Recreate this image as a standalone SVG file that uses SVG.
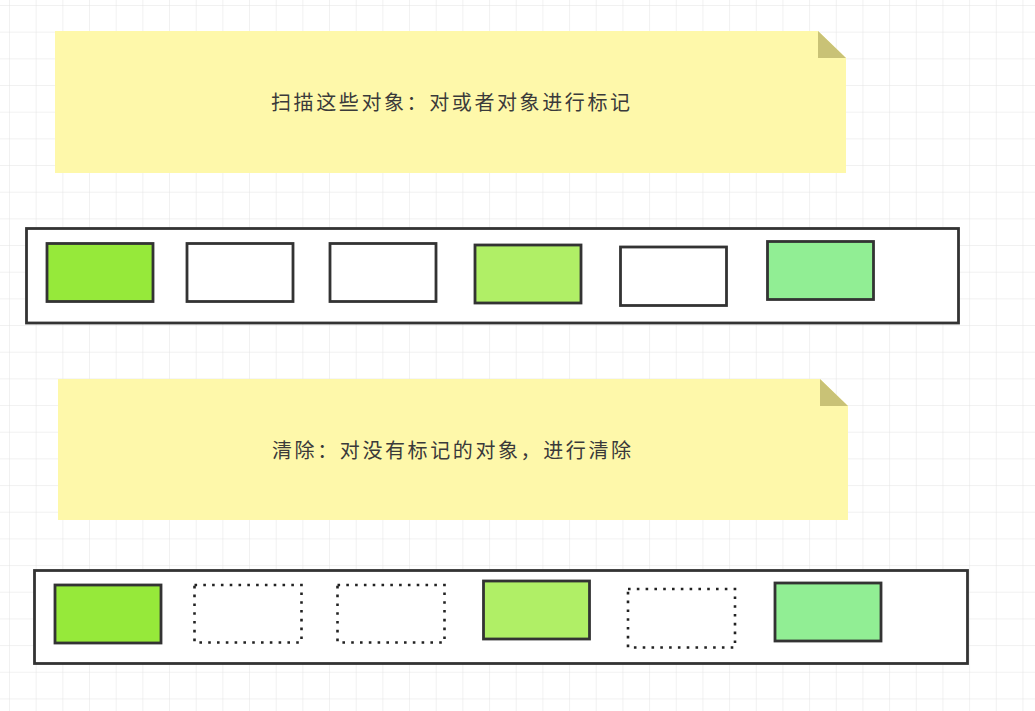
<svg xmlns="http://www.w3.org/2000/svg" width="1035" height="711" viewBox="0 0 1035 711">
<style>
.note{fill:#fef8aa}
.fold{fill:#c9c276}
.box{stroke:#333;stroke-width:2.8;fill:#fff}
.obj{stroke:#333;stroke-width:2.8}
.dot{stroke:#222;stroke-width:2.6;fill:#fff;stroke-dasharray:2.6 6.2}
.g1{fill:#96e93a}
.g2{fill:#b0ef66}
.g3{fill:#91ee94}
.w{fill:#fff}
.lbl{font-family:"Noto Sans CJK SC","Noto Sans",sans-serif;font-size:20px;fill:#3a3a3a;letter-spacing:2.6px}
</style>
<defs>
<pattern id="grid" patternUnits="userSpaceOnUse" x="9" y="5" width="26.67" height="26.67">
<path d="M0 0H26.67M0 0V26.67" stroke="#e3e3e3" stroke-width="1" fill="none"/>
</pattern>
</defs>
<rect width="1035" height="711" fill="#fff"/>
<rect width="1035" height="711" fill="url(#grid)"/>
<g id="note1">
<path class="note" d="M55 31H818L846 58V173H55Z"/>
<path class="fold" d="M818 31L846 58H818Z"/>
<text class="lbl" x="271" y="110">扫描这些对象：对或者对象进行标记</text>
</g>
<g id="heap1">
<rect class="box" x="26.5" y="228.5" width="932" height="94.5"/>
</g>
<g id="obj1a"><rect class="obj g1" x="47" y="243.5" width="106" height="58"/></g>
<g id="obj1b"><rect class="obj w" x="187" y="243.5" width="106" height="58"/></g>
<g id="obj1c"><rect class="obj w" x="330" y="243.5" width="106" height="58"/></g>
<g id="obj1d"><rect class="obj g2" x="475" y="245" width="106" height="58"/></g>
<g id="obj1e"><rect class="obj w" x="620.5" y="247" width="106" height="58.5"/></g>
<g id="obj1f"><rect class="obj g3" x="767.5" y="241.5" width="106" height="58"/></g>
<g id="note2">
<path class="note" d="M58 379H820L848 406V520H58Z"/>
<path class="fold" d="M820 379L848 406H820Z"/>
<text class="lbl" x="272" y="458">清除：对没有标记的对象，进行清除</text>
</g>
<g id="heap2">
<rect class="box" x="34.5" y="570.5" width="933" height="93"/>
</g>
<g id="obj2a"><rect class="obj g1" x="55" y="585" width="106" height="58"/></g>
<g id="obj2b"><rect class="dot" x="194.5" y="585" width="107" height="57.5"/></g>
<g id="obj2c"><rect class="dot" x="337.5" y="585" width="107" height="57.5"/></g>
<g id="obj2d"><rect class="obj g2" x="483.5" y="581" width="106" height="58"/></g>
<g id="obj2e"><rect class="dot" x="628" y="589" width="107" height="58.5"/></g>
<g id="obj2f"><rect class="obj g3" x="775" y="583" width="106" height="58"/></g>
<g id="connectors"></g>
</svg>
